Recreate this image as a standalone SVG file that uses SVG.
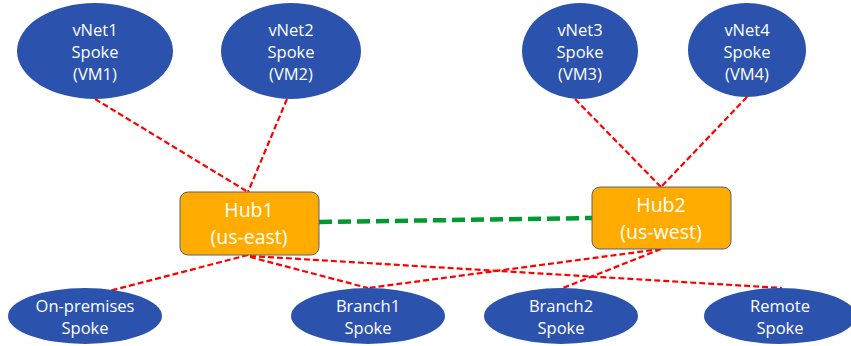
<svg xmlns="http://www.w3.org/2000/svg" width="851" height="346" viewBox="0 0 851 346">
<style>
.sp{fill:#2B53AD;}
.hub{fill:#FFAB00;stroke:#56627A;stroke-width:1;}
text{font-family:"Open Sans","Liberation Sans",sans-serif;fill:#fff;text-anchor:middle;}
.t{font-size:16.5px;}
.h{font-size:19.5px;}
.r{stroke:#FF0000;stroke-width:2.2;stroke-dasharray:6,3;fill:none;}
.g{stroke:#009A2E;stroke-width:4.5;stroke-dasharray:13,6;fill:none;}
</style>
<rect width="851" height="346" fill="#fff"/>
<g id="connectors">
<line class="r" x1="95" y1="99" x2="248" y2="192"/>
<line class="r" x1="287" y1="99" x2="248" y2="192"/>
<line class="r" x1="575" y1="99" x2="661" y2="187"/>
<line class="r" x1="747" y1="97" x2="661" y2="187"/>
<line class="g" x1="319" y1="222" x2="592" y2="218"/>
<line class="r" x1="248" y1="255" x2="90" y2="296"/>
<line class="r" x1="250" y1="257" x2="368" y2="288"/>
<line class="r" x1="250" y1="256" x2="782" y2="288"/>
<line class="r" x1="661" y1="249" x2="563" y2="288"/>
<line class="r" x1="661" y1="249" x2="368" y2="288"/>
</g>
<g id="vnet1"><ellipse class="sp" cx="95" cy="51" rx="78" ry="48"/><text class="t" x="95" y="36">vNet1</text><text class="t" x="95" y="58">Spoke</text><text class="t" x="95" y="80">(VM1)</text></g>
<g id="vnet2"><ellipse class="sp" cx="291" cy="51" rx="70" ry="48"/><text class="t" x="291" y="36">vNet2</text><text class="t" x="291" y="58">Spoke</text><text class="t" x="291" y="80">(VM2)</text></g>
<g id="vnet3"><ellipse class="sp" cx="580" cy="51" rx="58" ry="48"/><text class="t" x="580" y="36">vNet3</text><text class="t" x="580" y="58">Spoke</text><text class="t" x="580" y="80">(VM3)</text></g>
<g id="vnet4"><ellipse class="sp" cx="747" cy="50" rx="59" ry="47"/><text class="t" x="747" y="36">vNet4</text><text class="t" x="747" y="58">Spoke</text><text class="t" x="747" y="80">(VM4)</text></g>
<g id="hub1"><rect class="hub" x="180" y="192" width="139" height="63" rx="8"/><text class="h" x="249" y="217">Hub1</text><text class="h" x="249" y="244">(us-east)</text></g>
<g id="hub2"><rect class="hub" x="592" y="187" width="139" height="62" rx="8"/><text class="h" x="661" y="212">Hub2</text><text class="h" x="661" y="239">(us-west)</text></g>
<g id="onprem"><ellipse class="sp" cx="85" cy="316" rx="77" ry="28"/><text class="t" x="85" y="312">On-premises</text><text class="t" x="85" y="334">Spoke</text></g>
<g id="branch1"><ellipse class="sp" cx="368" cy="316" rx="77" ry="28"/><text class="t" x="368" y="312">Branch1</text><text class="t" x="368" y="334">Spoke</text></g>
<g id="branch2"><ellipse class="sp" cx="561" cy="316" rx="77" ry="28"/><text class="t" x="561" y="312">Branch2</text><text class="t" x="561" y="334">Spoke</text></g>
<g id="remote"><ellipse class="sp" cx="780" cy="316" rx="76" ry="28"/><text class="t" x="780" y="312">Remote</text><text class="t" x="780" y="334">Spoke</text></g>
</svg>
